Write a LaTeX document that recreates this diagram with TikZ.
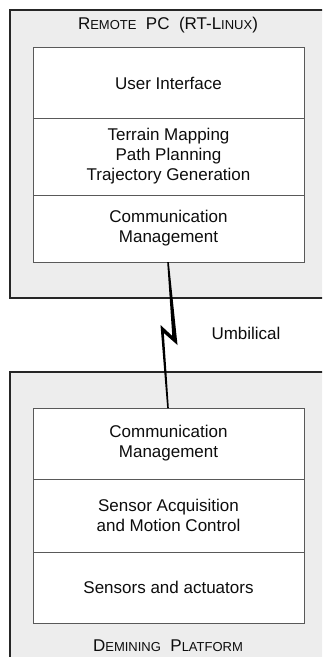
\documentclass[tikz,border=0pt]{standalone}
\usepackage{fontspec}
\setmainfont{Liberation Sans}
\newcommand\smallcap[1]{{\fontsize{13}{13}\selectfont #1}}
\begin{document}
\begin{tikzpicture}[x=1pt,y=-1pt,
  outerbox/.style={fill=black!7,draw=black!85,line width=1.7pt},
  layer/.style={fill=white,draw=black!65,line width=0.9pt},
  lbl/.style={font=\fontsize{17}{20}\selectfont,align=center,text=black!95},
  ttl/.style={font=\fontsize{17}{17}\selectfont,text=black!95}]
\useasboundingbox (0,0) rectangle (322,657);
\clip (0,0) rectangle (322,657);

% remote PC enclosure
\draw[outerbox] (10,10) rectangle (340,298);
\node[ttl] (pctitle) at (168,25) {R\smallcap{EMOTE}\ \ PC\ \ (RT-L\smallcap{INUX})};
\draw[layer] (33,47) rectangle (304,262);
\draw[black!65,line width=0.9pt] (33,118) -- (304,118) (33,195) -- (304,195);
\node[lbl] (ui) at (168.5,83) {User Interface};
\node[lbl] (plan) at (168.5,156.5) {Terrain Mapping\\Path Planning\\Trajectory Generation};
\node[lbl] (comm1) at (168.5,228.5) {Communication\\Management};

% demining platform enclosure
\draw[outerbox] (10,372) rectangle (340,680);
\draw[layer] (33,408) rectangle (304,623);
\draw[black!65,line width=0.9pt] (33,479) -- (304,479) (33,552) -- (304,552);
\node[lbl] (comm2) at (168.5,443.5) {Communication\\Management};
\node[lbl] (sensacq) at (168.5,515.5) {Sensor Acquisition\\and Motion Control};
\node[lbl] (sens) at (168.5,587.5) {Sensors and actuators};
\node[ttl] (plattitle) at (168,646) {D\smallcap{EMINING}\ \ P\smallcap{LATFORM}};

% umbilical link drawn as a bolt
\coordinate (utop) at (168,262);
\coordinate (ubot) at (168,408);
\fill[black] (167.2,262) -- (168.8,262) -- (177.5,345) -- (163.8,333) -- (168.8,408)
  -- (167.2,408) -- (160.5,325) -- (172.3,336) -- cycle;
\node[lbl] (umb) at (246,333) {Umbilical};
\end{tikzpicture}
\end{document}
